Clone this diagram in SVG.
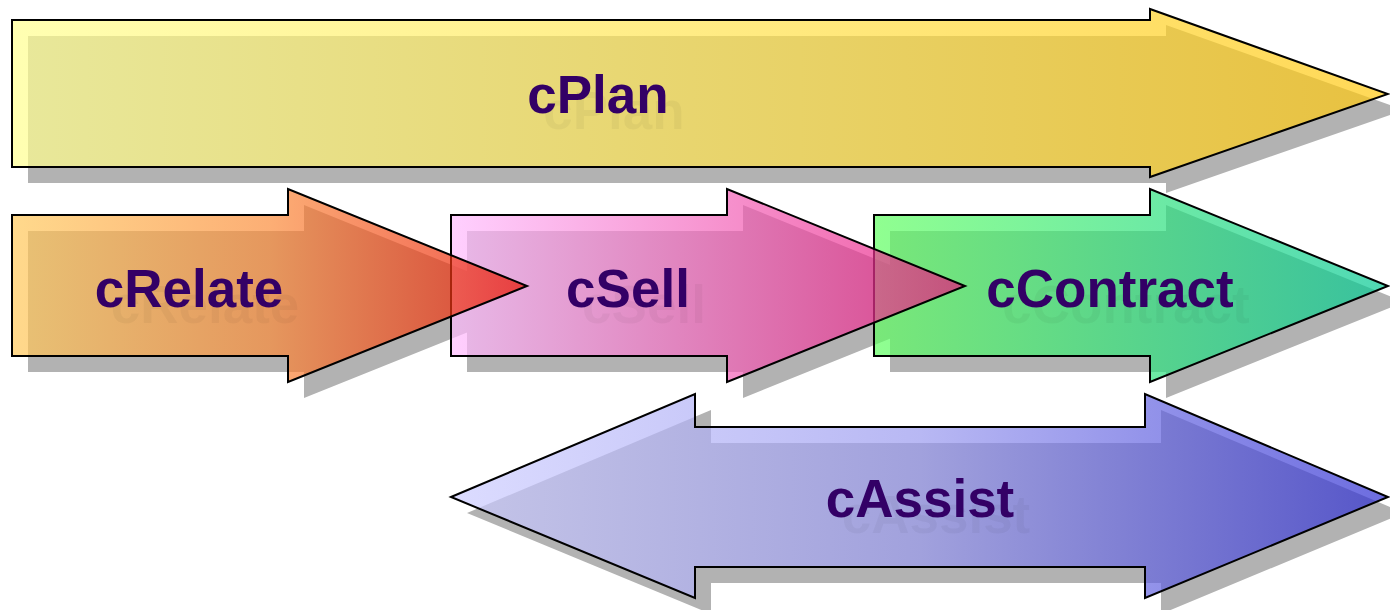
<svg xmlns="http://www.w3.org/2000/svg" xmlns:xlink="http://www.w3.org/1999/xlink" width="1390" height="610" viewBox="0 0 1390 610">
<style>
.shadow{fill:#b2b2b2;stroke:none}
.shape{fill-opacity:0.7;stroke:#000;stroke-width:2;stroke-linejoin:miter}
.lbl{font-family:"Liberation Sans",Arial,sans-serif;font-weight:bold;font-size:53px;text-anchor:middle;fill:#330066}
.lblsh{font-family:"Liberation Sans",Arial,sans-serif;font-weight:bold;font-size:53px;text-anchor:middle;fill:#000;fill-opacity:0.04}
</style>
<defs>
<path id="pPlan" d="M12,20 H1150 V9 L1388,94 L1150,177 V167 H12 Z"/>
<path id="pRelate" d="M12,215 H288 V189 L527,286 L288,382 V356 H12 Z"/>
<path id="pSell" d="M451,215 H727 V189 L965,286 L727,382 V356 H451 Z"/>
<path id="pContract" d="M874,215 H1150 V189 L1388,286 L1150,382 V356 H874 Z"/>
<path id="pAssist" d="M451,497 L695,394 V427 H1145 V394 L1388,497 L1145,598 V567 H695 V598 Z"/>
<linearGradient id="gPlan" gradientUnits="userSpaceOnUse" x1="12" y1="0" x2="1388" y2="0">
<stop offset="0" stop-color="#ffff91"/><stop offset="1" stop-color="#ffc810"/></linearGradient>
<linearGradient id="gRelate" gradientUnits="userSpaceOnUse" x1="12" y1="0" x2="527" y2="0">
<stop offset="0" stop-color="#ffc95b"/><stop offset="0.5" stop-color="#fb8c3a"/><stop offset="1" stop-color="#e81000"/></linearGradient>
<linearGradient id="gSell" gradientUnits="userSpaceOnUse" x1="451" y1="0" x2="965" y2="0">
<stop offset="0" stop-color="#ffbcff"/><stop offset="1" stop-color="#e8147a"/></linearGradient>
<linearGradient id="gContract" gradientUnits="userSpaceOnUse" x1="874" y1="0" x2="1388" y2="0">
<stop offset="0" stop-color="#61ff61"/><stop offset="1" stop-color="#05c896"/></linearGradient>
<linearGradient id="gAssist" gradientUnits="userSpaceOnUse" x1="451" y1="0" x2="1388" y2="0">
<stop offset="0" stop-color="#cdcdff"/><stop offset="0.5" stop-color="#9a9aef"/><stop offset="1" stop-color="#2e2ed2"/></linearGradient>
</defs>
<g id="shadows" transform="translate(16,16)">
<use xlink:href="#pPlan" class="shadow"/>
<use xlink:href="#pRelate" class="shadow"/>
<use xlink:href="#pSell" class="shadow"/>
<use xlink:href="#pContract" class="shadow"/>
<use xlink:href="#pAssist" class="shadow"/>
</g>
<g id="connectors"></g>
<g id="cAssist">
<use xlink:href="#pAssist" class="shape" fill="url(#gAssist)"/>
<text class="lblsh" x="936" y="533">cAssist</text>
<text class="lbl" x="920" y="517">cAssist</text>
</g>
<g id="cContract">
<use xlink:href="#pContract" class="shape" fill="url(#gContract)"/>
<text class="lblsh" x="1126" y="323">cContract</text>
<text class="lbl" x="1110" y="307">cContract</text>
</g>
<g id="cSell">
<use xlink:href="#pSell" class="shape" fill="url(#gSell)"/>
<text class="lblsh" x="644" y="323">cSell</text>
<text class="lbl" x="628" y="307">cSell</text>
</g>
<g id="cRelate">
<use xlink:href="#pRelate" class="shape" fill="url(#gRelate)"/>
<text class="lblsh" x="205" y="323">cRelate</text>
<text class="lbl" x="189" y="307">cRelate</text>
</g>
<g id="cPlan">
<use xlink:href="#pPlan" class="shape" fill="url(#gPlan)"/>
<text class="lblsh" x="614" y="129">cPlan</text>
<text class="lbl" x="598" y="113">cPlan</text>
</g>
</svg>
